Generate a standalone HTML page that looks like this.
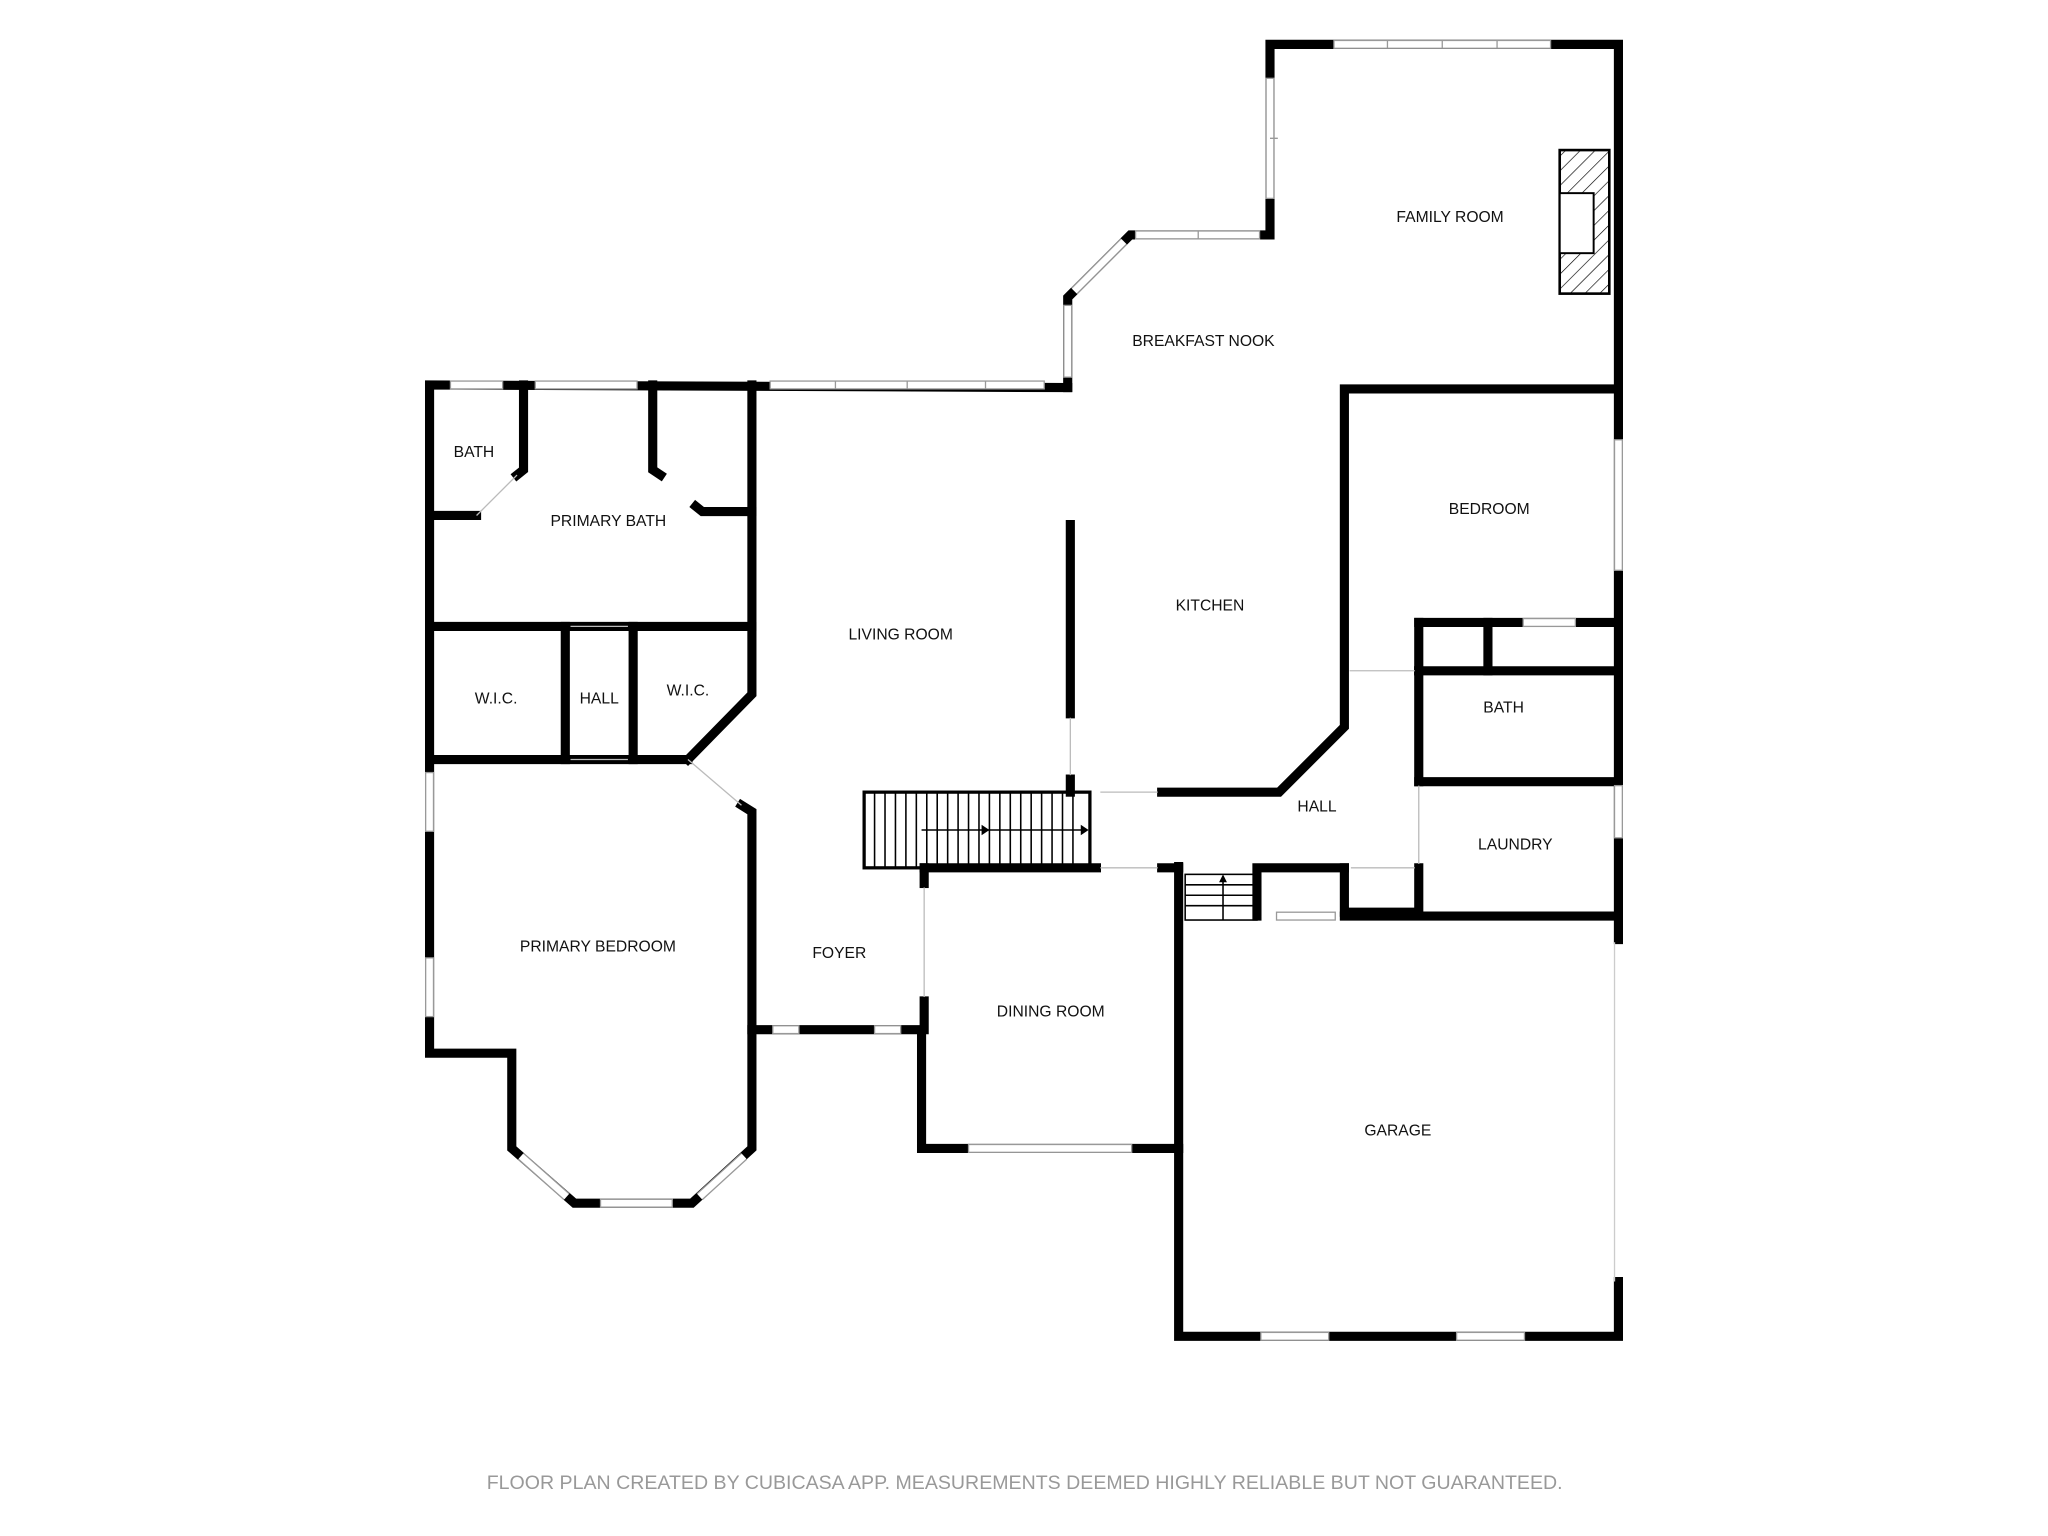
<!DOCTYPE html>
<html><head><meta charset="utf-8"><style>
html,body{margin:0;padding:0;background:#fff;}
svg{display:block;}
text{font-family:"Liberation Sans",sans-serif;font-size:12px;fill:#111;text-anchor:middle;}
</style></head><body>
<svg width="2048" height="1536" viewBox="0 0 1569 1177" xmlns="http://www.w3.org/2000/svg">
<defs>
<pattern id="h" width="8" height="8" patternUnits="userSpaceOnUse" patternTransform="rotate(45)"><line x1="0" y1="0" x2="0" y2="8" stroke="#000" stroke-width="1"/></pattern>
</defs>
<g transform="translate(0,2)">
<g fill="none" stroke="#000" stroke-width="7" stroke-linejoin="miter" stroke-linecap="square">
<polyline points="818,295 818,226 866,178 973,178 973,32 1240,32 1240,718"/>
<polyline points="1240,980 1240,1022 903,1022 903,662"/>
<polyline points="818,295 329,293 329,805 392,805 392,878 440,920 530,920 576,878 576,620 568,615"/>
<polyline points="576,787 706,787 706,878 903,878"/>
<polyline points="576,293 576,530 527,580"/>
<line x1="329" y1="478" x2="576" y2="478"/>
<line x1="329" y1="580" x2="527" y2="580"/>
<line x1="433" y1="478" x2="433" y2="580"/>
<line x1="485" y1="478" x2="485" y2="580"/>
<polyline points="401,293 401,358 396,362"/>
<polyline points="500,293 500,358 506,362"/>
<line x1="329" y1="393" x2="365" y2="393"/>
<polyline points="533,386 538,390 576,390"/>
<line x1="820" y1="400" x2="820" y2="545"/>
<polyline points="890,605 980,605 1030,555 1030,296 1240,296"/>
<line x1="1087" y1="475" x2="1240" y2="475"/>
<line x1="1087" y1="475" x2="1087" y2="512"/>
<line x1="1140" y1="475" x2="1140" y2="512"/>
<line x1="1087" y1="512" x2="1240" y2="512"/>
<line x1="1087" y1="597" x2="1240" y2="597"/>
<line x1="1087" y1="512" x2="1087" y2="597"/>
<polyline points="1087,663 1087,697 1030,697 1030,663"/>
<line x1="1030" y1="700" x2="1240" y2="700"/>
<line x1="708" y1="663" x2="840" y2="663"/>
<line x1="890" y1="663" x2="903" y2="663"/>
<polyline points="963,700 963,663 1030,663"/>
<line x1="708" y1="663" x2="708" y2="675"/>
<line x1="708" y1="765" x2="708" y2="787"/>
<line x1="820" y1="595" x2="820" y2="605"/>
</g>
<g stroke="#bbb" stroke-width="1" fill="none">
<line x1="527" y1="580" x2="568" y2="615"/>
<line x1="437" y1="478" x2="481" y2="478"/>
<line x1="437" y1="580" x2="481" y2="580"/>
<line x1="365" y1="393" x2="396" y2="362"/>
<line x1="1034" y1="512" x2="1084" y2="512"/>
<line x1="1087" y1="600" x2="1087" y2="660"/>
<line x1="843" y1="663" x2="887" y2="663"/>
<line x1="843" y1="605" x2="887" y2="605"/>
<line x1="1035" y1="663" x2="1084" y2="663"/>
<line x1="708" y1="678" x2="708" y2="762"/>
<line x1="820" y1="548" x2="820" y2="592"/>
</g>
<g fill="#fff" stroke="#999" stroke-width="1">
<rect x="1022" y="29" width="166" height="6"/>
<rect x="970" y="58" width="6" height="92"/>
<rect x="870" y="175" width="95" height="6"/>
<rect x="815" y="232" width="6" height="55"/>
<rect x="590" y="290" width="210" height="6"/>
<rect x="345" y="290" width="40" height="6"/>
<rect x="410" y="290" width="78" height="6"/>
<rect x="326" y="590" width="6" height="45"/>
<rect x="326" y="732" width="6" height="45"/>
<rect x="460" y="917" width="55" height="6"/>
<rect x="592" y="784" width="20" height="6"/>
<rect x="670" y="784" width="20" height="6"/>
<rect x="742" y="875" width="125" height="6"/>
<rect x="966" y="1019" width="52" height="6"/>
<rect x="1116" y="1019" width="52" height="6"/>
<rect x="1237" y="335" width="6" height="100"/>
<rect x="1237" y="600" width="6" height="40"/>
<rect x="1167" y="472" width="40" height="6"/>
<rect x="978" y="697" width="45" height="6"/>
</g>
<g stroke="#999" stroke-width="1">
<path d="M1063,29v6M1105,29v6M1147,29v6M973,104h6M918,175v6M640,290v6M695,290v6M755,290v6"/>
</g>
<g stroke-linecap="butt">
<line x1="823" y1="221" x2="861" y2="183" stroke="#999" stroke-width="7"/>
<line x1="823" y1="221" x2="861" y2="183" stroke="#fff" stroke-width="5"/>
<line x1="399" y1="884" x2="434" y2="915" stroke="#999" stroke-width="7"/>
<line x1="399" y1="884" x2="434" y2="915" stroke="#fff" stroke-width="5"/>
<line x1="536" y1="915" x2="570" y2="884" stroke="#999" stroke-width="7"/>
<line x1="536" y1="915" x2="570" y2="884" stroke="#fff" stroke-width="5"/>
</g>
<line x1="1237" y1="720" x2="1237" y2="980" stroke="#ccc" stroke-width="1"/>
<rect x="1195" y="113" width="38" height="110" fill="url(#h)" stroke="#000" stroke-width="2"/>
<rect x="1195" y="146" width="26" height="46" fill="#fff" stroke="#000" stroke-width="1.5"/>
<g stroke="#000" stroke-width="1.2" fill="none">
<rect x="662" y="605" width="173" height="58" stroke-width="2.5"/>
<path d="M670,605V663M678,605V663M686,605V663M694,605V663M702,605V663M710,605V663M718,605V663M726,605V663M734,605V663M742,605V663M750,605V663M758,605V663M766,605V663M774,605V663M782,605V663M790,605V663M798,605V663M806,605V663M814,605V663M822,605V663"/>
<line x1="706" y1="634" x2="830" y2="634"/>
<rect x="908" y="668" width="55" height="35"/>
<path d="M908,676H963M908,684H963M908,692H963"/>
<line x1="937" y1="703" x2="937" y2="672"/>
</g>
<path d="M752,630 758,634 752,638Z M828,630 834,634 828,638Z M934,674 937,668 940,674Z"/>
<text x="1111" y="168">FAMILY ROOM</text>
<text x="922" y="263">BREAKFAST NOOK</text>
<text x="363" y="348">BATH</text>
<text x="466" y="401">PRIMARY BATH</text>
<text x="1141" y="392">BEDROOM</text>
<text x="927" y="466">KITCHEN</text>
<text x="690" y="488">LIVING ROOM</text>
<text x="380" y="537">W.I.C.</text>
<text x="459" y="537">HALL</text>
<text x="527" y="531">W.I.C.</text>
<text x="1152" y="544">BATH</text>
<text x="1009" y="620">HALL</text>
<text x="1161" y="649">LAUNDRY</text>
<text x="458" y="727">PRIMARY BEDROOM</text>
<text x="643" y="732">FOYER</text>
<text x="805" y="777">DINING ROOM</text>
<text x="1071" y="868">GARAGE</text>
<text x="785" y="1139" style="fill:#999;font-size:15px">FLOOR PLAN CREATED BY CUBICASA APP. MEASUREMENTS DEEMED HIGHLY RELIABLE BUT NOT GUARANTEED.</text>
</g>
</svg>
</body></html>
